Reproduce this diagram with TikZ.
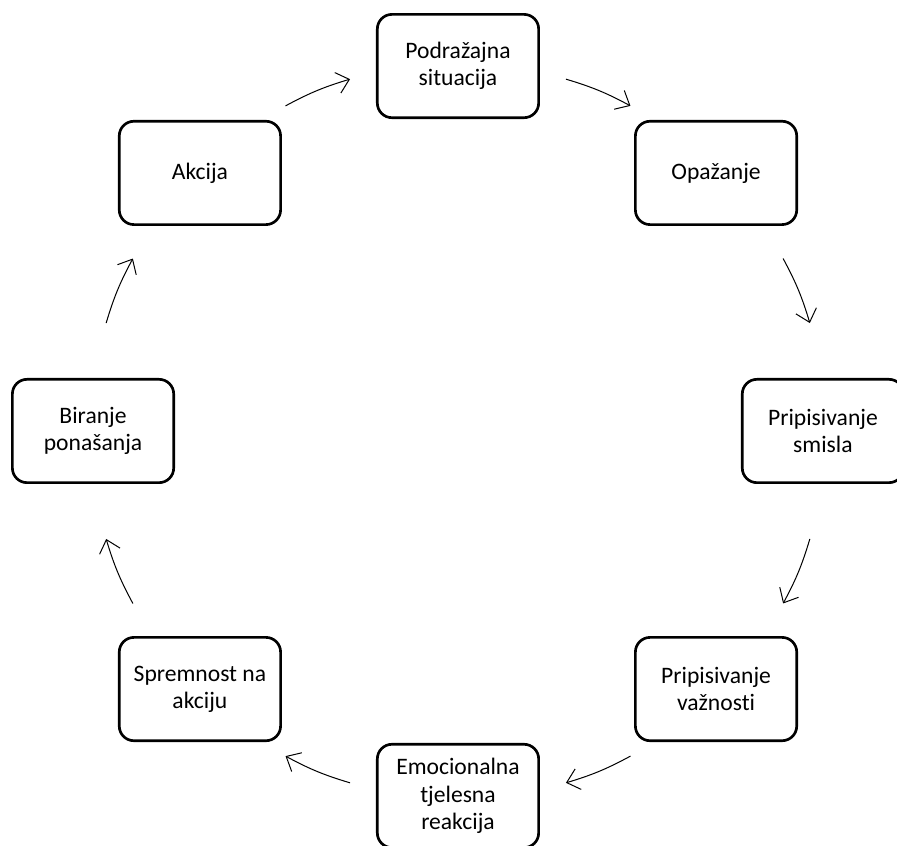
\documentclass[tikz,border=0pt]{standalone}
\usepackage{fontspec}
\setmainfont{Carlito}[Ligatures={NoCommon}]
\usetikzlibrary{arrows.meta}

\begin{document}
\begin{tikzpicture}[
        box/.style={draw, line width=2pt, rounded corners=11pt, align=center,
                    minimum width=121pt, minimum height=77.5pt, inner sep=2pt},
        arr/.style={line width=0.75pt, -{Straight Barb[length=9pt,width=16pt]}}
    ]
    \useasboundingbox (-343.5pt,-311.25pt) rectangle (329.25pt,323.25pt);
    \fontsize{17.7}{20.5}\selectfont
    \node[box] (P)  at (90:9.62)  {Podražajna\\situacija};
    \node[box] (O)  at (45:9.62)  {Opažanje};
    \node[box] (S)  at (0:9.62)   {Pripisivanje\\smisla};
    \node[box] (V)  at (-45:9.62) {Pripisivanje\\važnosti};
    \node[box] (E)  at (-90:9.62) {Emocionalna\\tjelesna\\reakcija};
    \node[box] (Sp) at (-135:9.62){Spremnost na\\akciju};
    \node[box] (B)  at (180:9.62) {Biranje\\ponašanja};
    \node[box] (A)  at (135:9.62) {Akcija};

    % short arcs between neighbours, on the same circle
    \foreach \a/\b in {A/P, P/O, O/S, S/V, V/E, E/Sp, Sp/B, B/A}{
        \path (\a.center) to[bend left=22.5] coordinate[pos=0.37] (s) coordinate[pos=0.63] (e) (\b.center);
        \draw[arr] (s) to[bend left=5.8] (e);
    }
\end{tikzpicture}
\end{document}
